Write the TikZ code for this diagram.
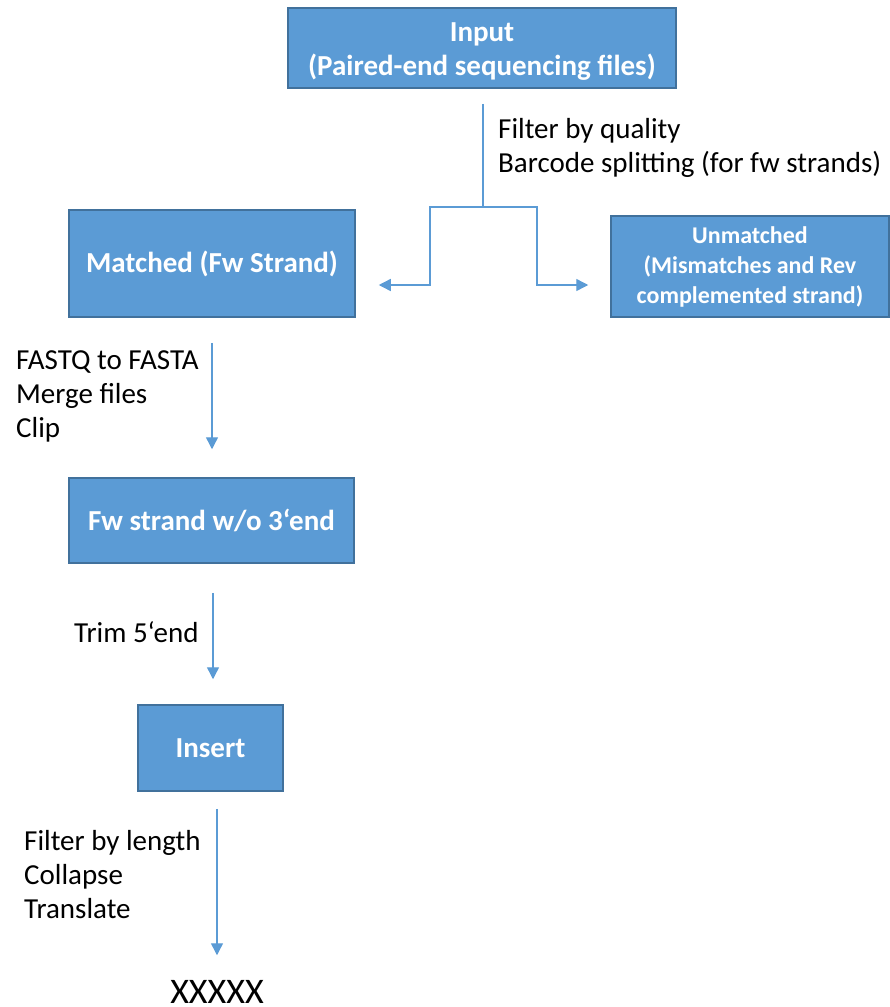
\documentclass[tikz,border=0pt]{standalone}
\usepackage{fontspec}
\setmainfont{Carlito}
\usetikzlibrary{arrows.meta}
\definecolor{boxfill}{HTML}{5B9BD5}
\definecolor{boxline}{HTML}{41719C}
\definecolor{flowline}{HTML}{5B9BD5}
\begin{document}
\begin{tikzpicture}[x=1pt,y=-1pt,
  stepbox/.style={draw=boxline, line width=1.5pt, fill=boxfill, text=white,
    font=\bfseries\fontsize{29}{34}\selectfont, align=center, inner sep=0pt},
  flow/.style={draw=flowline, line width=1.4pt},
  flowarr/.style={flow, -{Triangle[width=12pt,length=12pt]}},
  note/.style={font=\fontsize{29}{34}\selectfont, align=left, inner sep=0pt, anchor=west}
]
\useasboundingbox (0,0) rectangle (890,1007);

% process boxes
\node[stepbox, minimum width=388pt, minimum height=80pt] (in) at (482,48)
  {\rule{0pt}{26pt}Input\\(Paired-end sequencing files)};
\node[stepbox, minimum width=286pt, minimum height=107pt] (matched) at (212,263.5)
  {Matched (Fw Strand)};
\node[stepbox, minimum width=278pt, minimum height=101pt,
  font=\bfseries\fontsize{24}{30}\selectfont] (unmatched) at (750,266.5)
  {Unmatched\\(Mismatches and Rev\\complemented strand)};
\node[stepbox, minimum width=285pt, minimum height=85pt] (fw) at (211.5,520.5)
  {Fw strand w/o 3‘end};
\node[stepbox, minimum width=145pt, minimum height=86pt] (insert) at (210.5,748)
  {Insert};
\node[font=\fontsize{36}{40}\selectfont, inner sep=0pt] (out) at (217,992) {XXXXX};

% split after the input
\coordinate (split) at (483,207);
\coordinate (lturn) at (430,285);
\coordinate (rturn) at (537,285);
\draw[flow] ([yshift=-15pt]in.south -| split) -- (split);
\draw[flowarr] (split) -| (lturn) -- ([xshift=23pt]matched.east |- lturn);
\draw[flowarr] (split) -| (rturn) -- ([xshift=-22pt]unmatched.west |- rturn);

% vertical steps
\draw[flowarr] ([yshift=-25pt]matched.south) -- ([yshift=28pt]fw.north -| matched.south);
\draw[flowarr] ([shift={(1.5pt,-29pt)}]fw.south) -- ([yshift=25pt]insert.north -| 213,0);
\draw[flowarr] ([shift={(6.5pt,-17pt)}]insert.south) -- ([yshift=25pt]out.north);

% step notes
\node[note] (n1) at (498,148) {Filter by quality\\Barcode splitting (for fw strands)};
\node[note] (n2) at (16,396) {FASTQ to FASTA\\Merge files\\Clip};
\node[note] (n3) at (74,632) {Trim 5‘end};
\node[note] (n4) at (24,875) {Filter by length\\Collapse\\Translate};
\end{tikzpicture}
\end{document}
